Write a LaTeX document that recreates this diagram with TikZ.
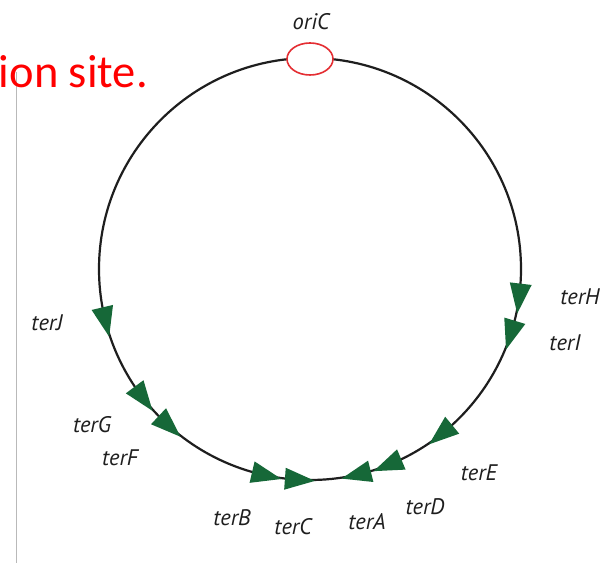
\documentclass[tikz,border=0pt]{standalone}
\usepackage{fontspec}
\setmainfont{PT Sans}
\newfontfamily\calfont{Carlito}
\usetikzlibrary{shapes.geometric}
\definecolor{tergreen}{RGB}{22,104,56}
\definecolor{orired}{RGB}{228,45,50}
\definecolor{ink}{RGB}{30,30,30}
\begin{document}
\begin{tikzpicture}[x=1pt,y=1pt,
  chrom/.style={line width=2.2pt, draw=ink},
  tri/.style={fill=tergreen, draw=none},
  lab/.style={font=\itshape\fontsize{22.5}{26}\selectfont, text=ink, inner sep=0pt}]
\useasboundingbox (0,0) rectangle (612,563);
\fill[white] (0,0) rectangle (612,563);

% slide margin rule and clipped heading
\coordinate (ruletop) at (16,491);
\coordinate (rulebot) at (16,0);
\draw[gray!55, line width=0.8pt] (ruletop) -- (rulebot);
\node[anchor=base east, text=red, font=\calfont\fontsize{46.5}{52}\selectfont, inner sep=0pt] (title) at (148,475) {ion site.};

% circular chromosome
\coordinate (C) at (310,294);
\draw[chrom] (C) circle[radius=211];

% Ter sites (direction = +1 counterclockwise, -1 clockwise)
\foreach \a/\d in {193.2/1, 216.6/1, 226.9/1, 256.8/1, 265.9/1,
                   284/-1, 292.9/-1, 309.6/-1, 343.1/-1, 353.3/-1}
  \fill[tri, shift={(C)}, shift={(\a:211)}, rotate=\a+\d*90]
    (20,0) -- (-10,11) -- (-10,-11) -- cycle;

% origin of replication
\node[ellipse, draw=orired, fill=white, line width=1.6pt,
      minimum width=46pt, minimum height=32pt, inner sep=0pt] (ori) at (310,504) {};

% labels
\node[lab] (loriC) at (311,541) {oriC};
\node[lab] (lterJ) at (47,240) {terJ};
\node[lab] (lterG) at (92,138) {terG};
\node[lab] (lterF) at (120,105) {terF};
\node[lab] (lterB) at (232,45) {terB};
\node[lab] (lterC) at (293,36) {terC};
\node[lab] (lterA) at (367,41) {terA};
\node[lab] (lterD) at (425,56) {terD};
\node[lab] (lterE) at (479,90) {terE};
\node[lab] (lterH) at (580,266) {terH};
\node[lab] (lterI) at (565,220) {terI};
\end{tikzpicture}
\end{document}
